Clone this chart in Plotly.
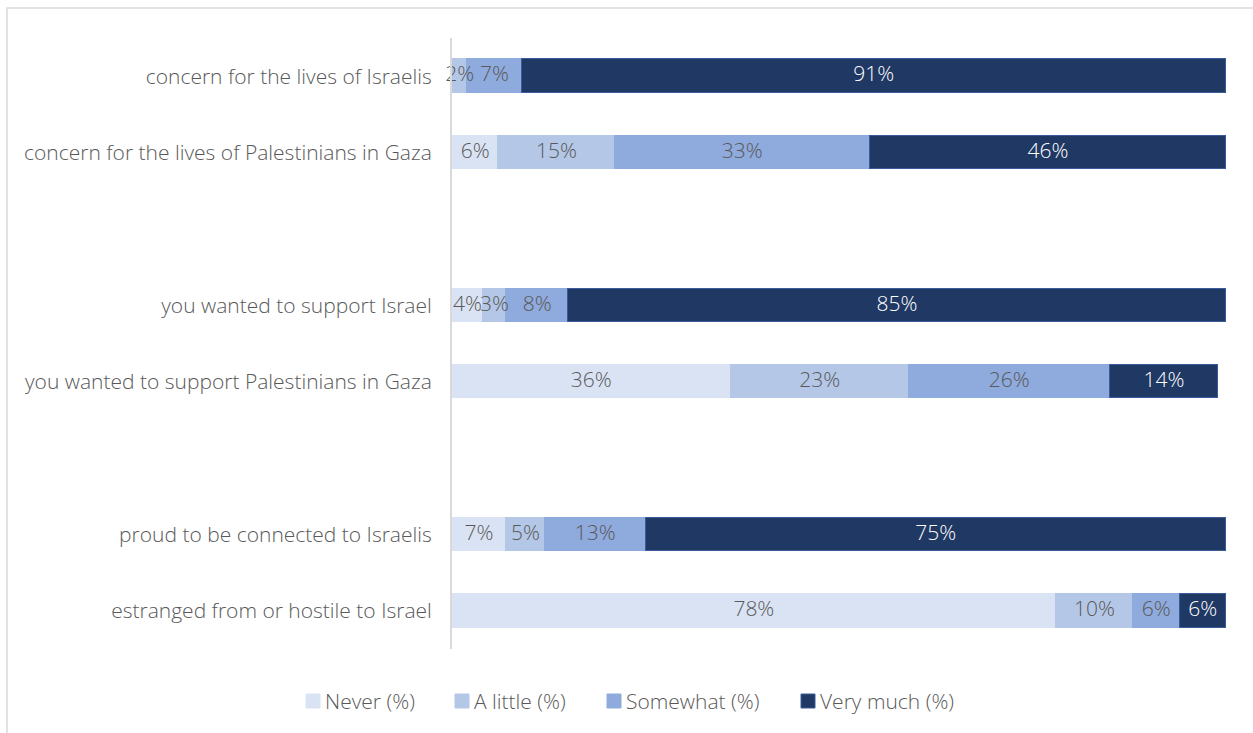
import plotly.graph_objects as go

# Survey items, top to bottom; None marks a spacer row between groups
items = [
    "concern for the lives of Israelis",
    "concern for the lives of Palestinians in Gaza",
    None,
    "you wanted to support Israel",
    "you wanted to support Palestinians in Gaza",
    None,
    "proud to be connected to Israelis",
    "estranged from or hostile to Israel",
]

never = [0, 6, 4, 36, 7, 78]
a_little = [2, 15, 3, 23, 5, 10]
somewhat = [7, 33, 8, 26, 13, 6]
very_much = [91, 46, 85, 14, 75, 6]

series_names = ["Never (%)", "A little (%)", "Somewhat (%)", "Very much (%)"]
fill_colors = ["#dae3f3", "#b4c7e7", "#8faadc", "#203864"]
edge_colors = ["#dae3f3", "#b4c7e7", "#8faadc", "#3b5c9a"]
text_colors = ["#595959", "#595959", "#595959", "#ffffff"]

rows = [i for i, name in enumerate(items) if name is not None]
labels = [name for name in items if name is not None]

FONT = "Open Sans"
GREY = "#595959"

W, H = 1253, 733
ml, mr, mt, mb = 452, 27, 38, 84
pw, ph = W - ml - mr, H - mt - mb


def px_x(x):
    return (x - ml) / pw


def px_y(y):
    return 1 - (y - mt) / ph


fig = go.Figure()
all_series = [never, a_little, somewhat, very_much]

# Stacked bars
for name, vals, fc, ec in zip(series_names, all_series, fill_colors, edge_colors):
    fig.add_trace(
        go.Bar(
            name=name,
            x=vals,
            y=rows,
            orientation="h",
            width=0.44,
            marker=dict(color=fc, line=dict(color=ec, width=1.2)),
            hoverinfo="skip",
            showlegend=False,
        )
    )

# Value labels centred on each segment, drawn above all bars
base = [0] * len(rows)
for vals, tc in zip(all_series, text_colors):
    mids = [b + v / 2 for b, v in zip(base, vals)]
    fig.add_trace(
        go.Scatter(
            x=mids,
            y=rows,
            mode="text",
            text=[f"{v}%" if v > 0 else "" for v in vals],
            textposition="middle center",
            textfont=dict(family=FONT, size=21, color=tc, weight=300),
            cliponaxis=False,
            hoverinfo="skip",
            showlegend=False,
        )
    )
    base = [b + v for b, v in zip(base, vals)]

fig.update_layout(
    width=W,
    height=H,
    barmode="stack",
    bargap=0,
    margin=dict(l=ml, r=mr, t=mt, b=mb),
    paper_bgcolor="white",
    plot_bgcolor="white",
    font=dict(family=FONT, size=20, color=GREY, weight=300),
    showlegend=False,
    xaxis=dict(
        range=[0, 100],
        showgrid=False,
        zeroline=False,
        showticklabels=False,
        showline=False,
        fixedrange=True,
    ),
    yaxis=dict(
        range=[7.5, -0.5],
        tickmode="array",
        tickvals=rows,
        ticktext=labels,
        ticks="",
        ticklabelstandoff=14,
        tickfont=dict(family=FONT, size=21, color=GREY, weight=300),
        showgrid=False,
        zeroline=False,
        showline=True,
        linecolor="#d9d9d9",
        linewidth=2,
        fixedrange=True,
    ),
)

# Legend along the bottom: small square swatch followed by the series name
legend_left = [306, 455, 607, 801]
legend_cy = 701
sw = 14
for name, fc, ec, lx in zip(series_names, fill_colors, edge_colors, legend_left):
    fig.add_shape(
        type="rect",
        xref="paper",
        yref="paper",
        x0=px_x(lx),
        x1=px_x(lx + sw),
        y0=px_y(legend_cy + sw / 2),
        y1=px_y(legend_cy - sw / 2),
        fillcolor=fc,
        line=dict(color=ec, width=1),
    )
    fig.add_annotation(
        xref="paper",
        yref="paper",
        x=px_x(lx + sw + 3),
        y=px_y(legend_cy),
        xanchor="left",
        yanchor="middle",
        text=name,
        showarrow=False,
        font=dict(family=FONT, size=21, color=GREY, weight=300),
    )

# Outer chart frame (top and left edges visible)
fig.add_shape(
    type="rect",
    xref="paper",
    yref="paper",
    x0=px_x(7),
    x1=px_x(W + 20),
    y0=px_y(H + 20),
    y1=px_y(8),
    line=dict(color="#d9d9d9", width=1.5),
    fillcolor="rgba(0,0,0,0)",
    layer="below",
)

fig.write_html("out.html")
